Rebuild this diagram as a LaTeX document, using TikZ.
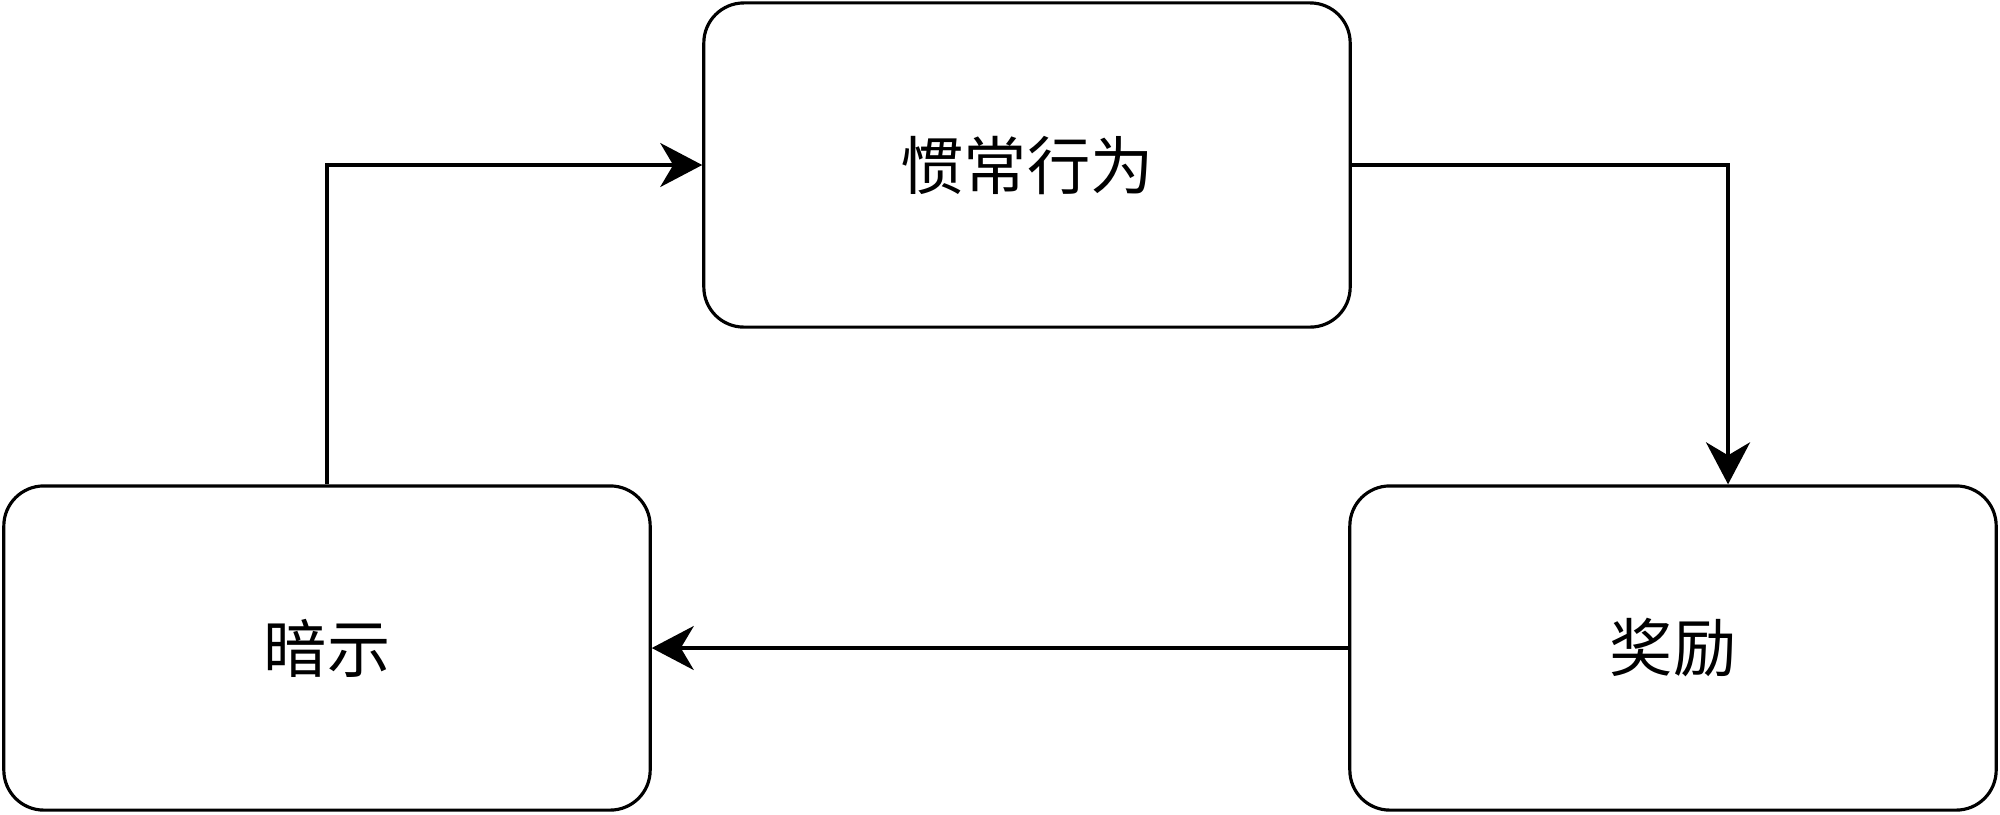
\documentclass[tikz,border=0pt]{standalone}
\usepackage{fontspec}
\newfontfamily\cjk{Noto Sans CJK SC}
\usetikzlibrary{arrows.meta}
\begin{document}
\begin{tikzpicture}[x=0.01cm,y=-0.01cm,
  boxstyle/.style={draw=black, line width=0.9pt, rounded corners=0.4cm, fill=white,
    minimum width=6.46cm, minimum height=3.24cm, inner sep=0pt,
    font=\cjk\fontsize{18}{22}\selectfont},
  conn/.style={line width=0.9pt, -{Stealth[length=0.42cm, width=0.44cm, inset=0.13cm]}}]
\useasboundingbox (0,0) rectangle (2000,814);
\node[boxstyle] (habit) at (1027,165) {惯常行为};
\node[boxstyle] (cue) at (327,648) {暗示};
\node[boxstyle] (reward) at (1673,648) {奖励};
\draw[conn] (cue.north) |- (habit.west);
\draw[conn] (habit.east) -| ([xshift=0.55cm]reward.north);
\draw[conn] (reward.west) -- (cue.east);
\end{tikzpicture}
\end{document}
